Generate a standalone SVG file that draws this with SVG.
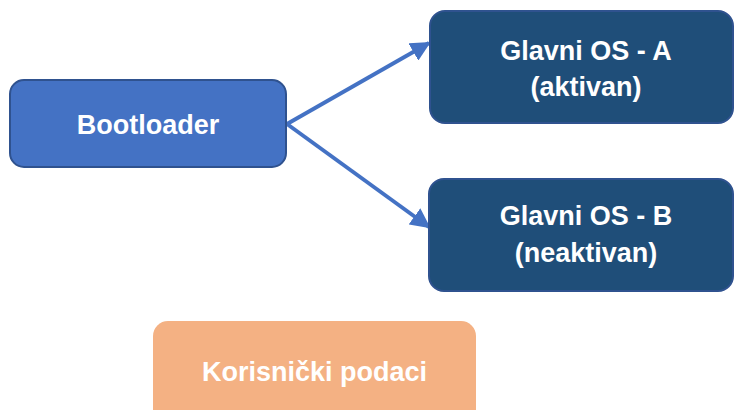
<svg xmlns="http://www.w3.org/2000/svg" width="734" height="410" viewBox="0 0 734 410">
<defs>
<style>
.t{font-family:"Liberation Sans",Arial,sans-serif;font-weight:bold;font-size:27px;fill:#fff;text-anchor:middle}
.os{fill:#1F4E79;stroke:#2F528F;stroke-width:2}
.edge{stroke:#4472C4;stroke-width:4;fill:none}
</style>
<marker id="ah" viewBox="0 0 10 10" refX="9" refY="5" markerWidth="5" markerHeight="5" markerUnits="strokeWidth" orient="auto">
<path d="M0,0 L10,5 L0,10 z" fill="#4472C4"/>
</marker>
</defs>
<rect width="734" height="410" fill="#fff"/>
<g id="connectors">
<line class="edge" x1="287" y1="124" x2="429" y2="43" marker-end="url(#ah)"/>
<line class="edge" x1="287" y1="124" x2="429" y2="227" marker-end="url(#ah)"/>
</g>
<g id="bootloader">
<rect x="10" y="80" width="276" height="87" rx="14" fill="#4472C4" stroke="#2F528F" stroke-width="2"/>
<text class="t" x="148" y="134">Bootloader</text>
</g>
<g id="os-a">
<rect class="os" x="430" y="11" width="303" height="112" rx="15"/>
<text class="t" x="586" y="60">Glavni OS - A</text>
<text class="t" x="586" y="96">(aktivan)</text>
</g>
<g id="os-b">
<rect class="os" x="429" y="179" width="304" height="112" rx="15"/>
<text class="t" x="586" y="225">Glavni OS - B</text>
<text class="t" x="586" y="262">(neaktivan)</text>
</g>
<g id="korisnicki">
<rect x="153" y="321" width="323" height="110" rx="15" fill="#F4B183"/>
<text class="t" x="314.5" y="381">Korisnički podaci</text>
</g>
</svg>
